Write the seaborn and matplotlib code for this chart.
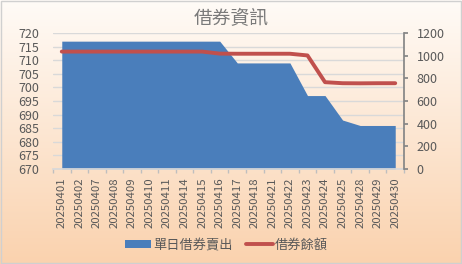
import numpy as np
import pandas as pd
import matplotlib
matplotlib.use("Agg")
import matplotlib.pyplot as plt
from matplotlib.patches import Patch
from matplotlib.lines import Line2D
import seaborn as sns

dates = ["20250401", "20250402", "20250407", "20250408", "20250409", "20250410",
         "20250411", "20250414", "20250415", "20250416", "20250417", "20250418",
         "20250421", "20250422", "20250423", "20250424", "20250425", "20250428",
         "20250429", "20250430"]
daily_short = [717, 717, 717, 717, 717, 717, 717, 717, 717, 717,
               709, 709, 709, 709, 697, 697, 688, 686, 686, 686]
balance = [1036, 1036, 1036, 1036, 1036, 1036, 1036, 1036, 1036, 1018,
           1017, 1017, 1017, 1017, 1002, 766, 757, 756, 757, 757]

sns.set_theme(style="white")
plt.rcParams['font.family'] = ['Noto Sans CJK TC', 'DejaVu Sans']

df = pd.DataFrame({"date": dates, "short": daily_short, "bal": balance,
                   "idx": np.arange(len(dates))})

fig = plt.figure(figsize=(4.62, 2.64), dpi=100)

# gradient background
bg = fig.add_axes([0, 0, 1, 1], zorder=-10)
top = np.array([0xff, 0xfb, 0xf7]) / 255
bot = np.array([0xfa, 0xd2, 0xae]) / 255
t = np.linspace(0, 1, 256)[:, None]
grad = top[None, :] * (1 - t) + bot[None, :] * t
grad = np.repeat(grad[:, None, :], 2, axis=1)
bg.imshow(grad, aspect="auto", extent=[0, 1, 0, 1], origin="upper")
bg.add_patch(plt.Rectangle((0.002, 0.004), 0.996, 0.992, fill=False,
                           edgecolor="#d0d0d0", lw=1, transform=bg.transAxes))
bg.set_xlim(0, 1); bg.set_ylim(0, 1)
bg.axis("off")

ax = fig.add_axes([53/462, 1 - 169/264, 351/462, 136/264])
ax.patch.set_alpha(0)
ax.fill_between(df["idx"], daily_short, 670, color="#4a7ebb", lw=0, zorder=2)
ax.set_xlim(-0.5, len(dates) - 0.5)
ax.set_ylim(670, 720)
ax.set_yticks(np.arange(670, 721, 5))
ax.yaxis.grid(True, color="#d9d9d9", lw=1, zorder=0)
ax.set_axisbelow(True)
ax.set_xticks(df["idx"])
ax.set_xticklabels(dates, rotation=90, fontsize=8.2, color="#595959")
ax.set_xticks(np.arange(-0.5, len(dates), 1), minor=True)
ax.tick_params(axis="x", which="major", length=0, pad=6)
ax.tick_params(axis="x", which="minor", length=3, color="#bfbfbf", direction="out", bottom=True)
ax.tick_params(axis="y", length=0, labelsize=9, labelcolor="#595959", pad=10)
for s in ["left", "top", "right"]:
    ax.spines[s].set_visible(False)
ax.spines["bottom"].set_color("#d9d9d9")
ax.set_xlabel(""); ax.set_ylabel("")

ax2 = ax.twinx()
sns.lineplot(data=df, x="idx", y="bal", ax=ax2, color="#c0504d", lw=2.8, zorder=3)
ax2.set_ylim(0, 1200)
ax2.set_yticks(np.arange(0, 1201, 200))
ax2.tick_params(axis="y", length=3, color="#868686", direction="out",
                labelsize=9, labelcolor="#595959", pad=6)
for s in ["left", "top", "bottom"]:
    ax2.spines[s].set_visible(False)
ax2.spines["right"].set_color("#868686")
ax2.set_xlabel(""); ax2.set_ylabel("")
ax2.set_xlim(-0.5, len(dates) - 0.5)

fig.text(0.5, 1 - 19/264, "借券資訊", ha="center", va="center", fontsize=13.5, color="#7a7a7a")

handles = [Patch(facecolor="#4a7ebb", edgecolor="none"),
           Line2D([0], [0], color="#c0504d", lw=2.8)]
fig.legend(handles, ["單日借券賣出", "借券餘額"], loc="center",
           bbox_to_anchor=(0.49, 1 - 245/264), ncol=2, frameon=False,
           fontsize=9.5, labelcolor="#595959", handlelength=2.0,
           handleheight=0.6, columnspacing=1.0, handletextpad=0.2)

fig.savefig("out.png", dpi=100)
